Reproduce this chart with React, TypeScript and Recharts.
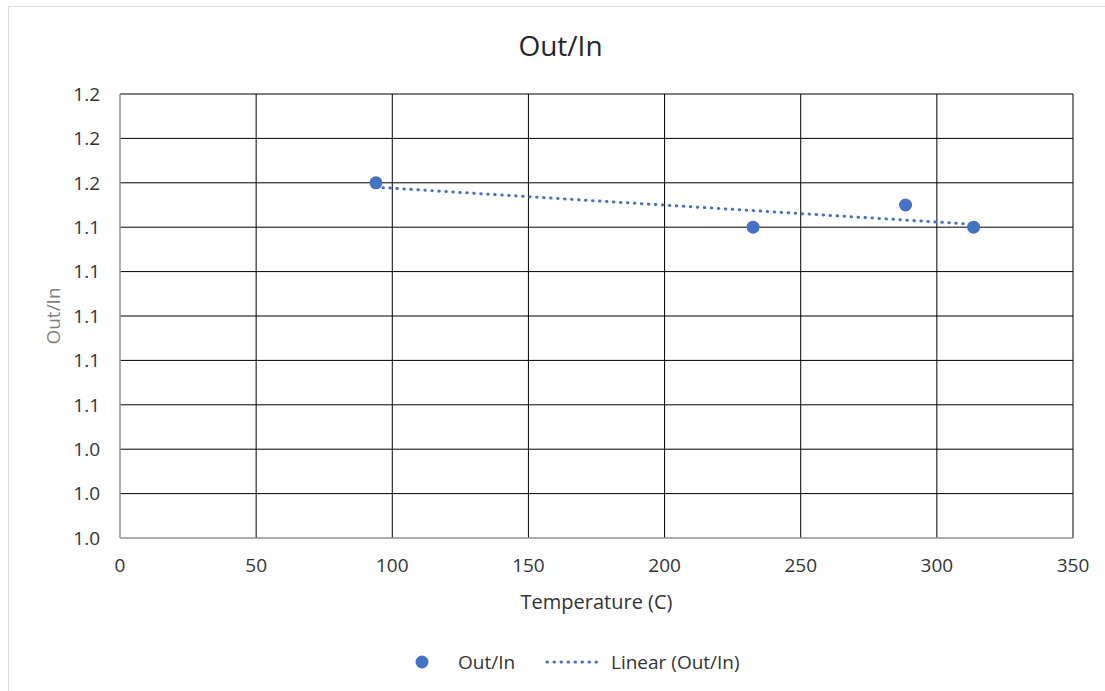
import React from 'react';
import { ScatterChart, Scatter, XAxis, YAxis, CartesianGrid } from 'recharts';

const temperatures = [94, 232.5, 288.5, 313.5];
const outIn = [1.16, 1.14, 1.15, 1.14];
const xTicks = [0, 50, 100, 150, 200, 250, 300, 350];
const yTicks = [1.0, 1.02, 1.04, 1.06, 1.08, 1.1, 1.12, 1.14, 1.16, 1.18, 1.2];

const points = temperatures.map((t, i) => ({ x: t, y: outIn[i] }));

// least-squares linear trend of the data (Excel "Linear" trendline)
const n = points.length;
const mx = temperatures.reduce((a, b) => a + b, 0) / n;
const my = outIn.reduce((a, b) => a + b, 0) / n;
let sxy = 0;
let sxx = 0;
points.forEach((p) => {
  sxy += (p.x - mx) * (p.y - my);
  sxx += (p.x - mx) * (p.x - mx);
});
const slope = sxy / sxx;
const xMin = Math.min(...temperatures);
const xMax = Math.max(...temperatures);
const trend = [
  { x: xMin, y: my + slope * (xMin - mx) },
  { x: xMax, y: my + slope * (xMax - mx) },
];

const FONT = '"Open Sans", "Noto Sans", sans-serif';
const BLUE = '#4472C4';

const Dot = (props: any) => <circle cx={props.cx} cy={props.cy} r={6.5} fill={BLUE} />;
const NoShape = () => <g />;

export default function App() {
  return (
    <div style={{ position: 'absolute', left: 0, top: 0, width: 1105, height: 691, background: '#fff', fontFamily: FONT, overflow: 'hidden' }}>
      <div style={{ position: 'absolute', left: 8, top: 6, width: 1200, height: 800, borderTop: '1px solid #d9d9d9', borderLeft: '1px solid #d9d9d9' }} />
      <div style={{ position: 'absolute', left: 0, top: 27, width: 1121, textAlign: 'center', fontSize: 28, color: '#262626', lineHeight: '36px' }}>
        Out/In
      </div>
      <div style={{ position: 'absolute', left: 0, top: 0 }}>
        <ScatterChart width={1105} height={691} margin={{ top: 94, right: 32, bottom: 73, left: 0 }}>
          <CartesianGrid stroke="#000" strokeWidth={1} />
          <XAxis
            type="number"
            dataKey="x"
            domain={[0, 350]}
            ticks={xTicks}
            interval={0}
            height={80}
            tickLine={false}
            tickSize={0}
            tickMargin={21}
            axisLine={{ stroke: '#d9d9d9' }}
            tick={{ fill: '#333', fontSize: 19, fontFamily: FONT }}
            label={{ value: 'Temperature (C)', position: 'insideBottom', offset: 9, fill: '#333', fontSize: 20, fontFamily: FONT }}
          />
          <YAxis
            type="number"
            dataKey="y"
            domain={[1.0, 1.2]}
            ticks={yTicks}
            interval={0}
            width={120}
            tickLine={false}
            tickSize={0}
            tickMargin={20}
            axisLine={{ stroke: '#d9d9d9' }}
            tickFormatter={(v: number) => v.toFixed(1)}
            tick={{ fill: '#333', fontSize: 19, fontFamily: FONT }}
            label={{ value: 'Out/In', angle: -90, position: 'insideLeft', offset: 53, fill: '#7f7f7f', fontSize: 19, fontFamily: FONT, style: { textAnchor: 'middle' } }}
          />
          <Scatter
            data={trend}
            isAnimationActive={false}
            line={{ stroke: BLUE, strokeWidth: 3, strokeDasharray: '0.5 6.5', strokeLinecap: 'round' }}
            shape={NoShape}
          />
          <Scatter data={points} isAnimationActive={false} shape={Dot} />
        </ScatterChart>
      </div>
      <div style={{ position: 'absolute', left: 0, top: 650, height: 24 }}>
        <svg width={1105} height={24} style={{ position: 'absolute', left: 0, top: 0 }}>
          <circle cx={422} cy={12} r={6.5} fill={BLUE} />
          <line x1={547} y1={12} x2={600} y2={12} stroke={BLUE} strokeWidth={3} strokeDasharray="0.5 6.5" strokeLinecap="round" />
        </svg>
        <span style={{ position: 'absolute', left: 458, top: 0, fontSize: 19, lineHeight: '24px', color: '#333', whiteSpace: 'nowrap' }}>Out/In</span>
        <span style={{ position: 'absolute', left: 611, top: 0, fontSize: 19, lineHeight: '24px', color: '#333', whiteSpace: 'nowrap' }}>Linear (Out/In)</span>
      </div>
    </div>
  );
}
